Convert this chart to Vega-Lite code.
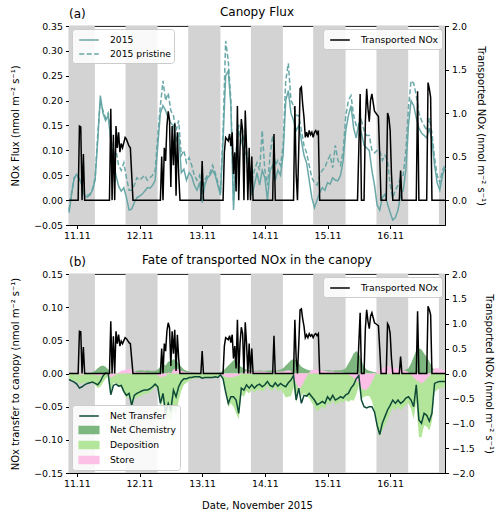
{
"$schema":"https://vega.github.io/schema/vega-lite/v6.json",
"padding":{"left":10,"right":4,"top":5,"bottom":3},
"spacing":12,
"config":{
 "font":"DejaVu Sans",
 "view":{"stroke":"black","strokeWidth":0.9},
 "axis":{"grid":false,"labelFont":"DejaVu Sans","labelFontSize":9.4,"labelColor":"black","titleFont":"DejaVu Sans","titleFontSize":10,"titleFontWeight":"normal","titleColor":"black","tickColor":"black","domainColor":"black","tickSize":3.5,"labelPadding":3,"domain":true,"labelOverlap":false},
 "title":{"font":"DejaVu Sans","fontSize":12,"fontWeight":"normal","color":"black"},
 "legend":{"labelFont":"DejaVu Sans","labelFontSize":9.2,"labelColor":"black","fillColor":"rgba(255,255,255,0.85)","strokeColor":"#cccccc","cornerRadius":3,"padding":3,"offset":3,"rowPadding":0,"symbolOffset":6,"labelOffset":13,"symbolSize":196,"title":null}
},
"datasets":{
"night":[
{"s":"2015-11-10T21:00","e":"2015-11-11T06:55"},
{"s":"2015-11-11T18:40","e":"2015-11-12T06:55"},
{"s":"2015-11-12T18:40","e":"2015-11-13T07:00"},
{"s":"2015-11-13T18:40","e":"2015-11-14T06:55"},
{"s":"2015-11-14T18:30","e":"2015-11-15T06:55"},
{"s":"2015-11-15T18:45","e":"2015-11-16T06:55"},
{"s":"2015-11-16T18:40","e":"2015-11-16T21:00"}
],
"tn":[
{"t":"2015-11-10T21:00","v":0},{"t":"2015-11-11T00:30","v":0},{"t":"2015-11-11T01:00","v":0.85},{"t":"2015-11-11T01:30","v":0.84},{"t":"2015-11-11T02:00","v":0},{"t":"2015-11-11T02:30","v":0.53},{"t":"2015-11-11T03:00","v":0},
{"t":"2015-11-11T12:30","v":0},{"t":"2015-11-11T13:00","v":1.05},{"t":"2015-11-11T13:30","v":0},{"t":"2015-11-11T14:00","v":0.75},{"t":"2015-11-11T14:30","v":0},{"t":"2015-11-11T15:00","v":0.85},{"t":"2015-11-11T15:30","v":0.6},{"t":"2015-11-11T16:00","v":0.78},{"t":"2015-11-11T16:30","v":0.55},{"t":"2015-11-11T17:00","v":0.65},{"t":"2015-11-11T17:30","v":0.6},{"t":"2015-11-11T18:00","v":0.66},{"t":"2015-11-11T18:30","v":0.72},{"t":"2015-11-11T19:00","v":0.7},{"t":"2015-11-11T19:30","v":0.66},{"t":"2015-11-11T20:00","v":0.62},{"t":"2015-11-11T20:30","v":0.6},{"t":"2015-11-11T21:00","v":0.3},{"t":"2015-11-11T21:30","v":0},
{"t":"2015-11-12T08:00","v":0},{"t":"2015-11-12T08:30","v":0.5},{"t":"2015-11-12T09:00","v":0},{"t":"2015-11-12T09:30","v":0.6},{"t":"2015-11-12T10:00","v":0.45},{"t":"2015-11-12T10:30","v":0.85},{"t":"2015-11-12T11:00","v":1.02},{"t":"2015-11-12T11:30","v":0.92},{"t":"2015-11-12T12:00","v":0.15},{"t":"2015-11-12T12:30","v":0.85},{"t":"2015-11-12T13:00","v":0.4},{"t":"2015-11-12T13:30","v":0.88},{"t":"2015-11-12T14:00","v":0.05},{"t":"2015-11-12T14:30","v":0.78},{"t":"2015-11-12T15:00","v":0.3},{"t":"2015-11-12T15:30","v":0},
{"t":"2015-11-12T23:30","v":0},{"t":"2015-11-13T00:00","v":0.45},{"t":"2015-11-13T00:30","v":0},
{"t":"2015-11-13T08:00","v":0},{"t":"2015-11-13T08:30","v":0.55},{"t":"2015-11-13T09:00","v":0.72},{"t":"2015-11-13T09:30","v":0.7},{"t":"2015-11-13T10:00","v":0.68},{"t":"2015-11-13T10:30","v":0.76},{"t":"2015-11-13T11:00","v":0.62},{"t":"2015-11-13T11:30","v":0.78},{"t":"2015-11-13T12:00","v":0.3},{"t":"2015-11-13T12:30","v":0.55},{"t":"2015-11-13T13:00","v":0.1},{"t":"2015-11-13T13:30","v":1.08},{"t":"2015-11-13T14:00","v":0},{"t":"2015-11-13T14:30","v":0.6},{"t":"2015-11-13T15:00","v":0.93},{"t":"2015-11-13T15:30","v":0.8},{"t":"2015-11-13T16:00","v":0},{"t":"2015-11-13T16:30","v":1.03},{"t":"2015-11-13T17:00","v":0.6},{"t":"2015-11-13T17:30","v":0},{"t":"2015-11-13T18:00","v":0.6},{"t":"2015-11-13T18:30","v":0},{"t":"2015-11-13T19:00","v":0.5},{"t":"2015-11-13T19:30","v":0},
{"t":"2015-11-14T03:00","v":0},{"t":"2015-11-14T03:30","v":0.76},{"t":"2015-11-14T04:00","v":0},
{"t":"2015-11-14T11:00","v":0},{"t":"2015-11-14T11:30","v":1.08},{"t":"2015-11-14T12:00","v":0.3},{"t":"2015-11-14T12:30","v":0},{"t":"2015-11-14T13:00","v":0.6},{"t":"2015-11-14T13:30","v":1.28},{"t":"2015-11-14T14:00","v":1.3},{"t":"2015-11-14T14:30","v":1.1},{"t":"2015-11-14T15:00","v":0.95},{"t":"2015-11-14T15:30","v":0.72},{"t":"2015-11-14T16:00","v":0.78},{"t":"2015-11-14T16:30","v":0.72},{"t":"2015-11-14T17:00","v":0.8},{"t":"2015-11-14T17:30","v":0.75},{"t":"2015-11-14T18:00","v":0.78},{"t":"2015-11-14T18:30","v":0.72},{"t":"2015-11-14T19:00","v":0.78},{"t":"2015-11-14T19:30","v":0.8},{"t":"2015-11-14T20:00","v":0.76},{"t":"2015-11-14T20:30","v":0.8},{"t":"2015-11-14T21:00","v":0},
{"t":"2015-11-15T11:30","v":0},{"t":"2015-11-15T12:00","v":0.6},{"t":"2015-11-15T12:30","v":1.22},{"t":"2015-11-15T13:00","v":0},{"t":"2015-11-15T14:00","v":0},{"t":"2015-11-15T14:30","v":0.9},{"t":"2015-11-15T15:00","v":1.28},{"t":"2015-11-15T15:30","v":1.05},{"t":"2015-11-15T16:00","v":0.9},{"t":"2015-11-15T16:30","v":1.15},{"t":"2015-11-15T17:00","v":1.22},{"t":"2015-11-15T17:30","v":1.12},{"t":"2015-11-15T18:00","v":1.02},{"t":"2015-11-15T18:30","v":1.0},{"t":"2015-11-15T19:00","v":0.98},{"t":"2015-11-15T19:30","v":0.96},{"t":"2015-11-15T20:00","v":0.5},{"t":"2015-11-15T20:30","v":0},
{"t":"2015-11-15T22:30","v":0},{"t":"2015-11-15T23:00","v":1.0},{"t":"2015-11-15T23:30","v":0.95},{"t":"2015-11-16T00:00","v":0.8},{"t":"2015-11-16T00:30","v":0.3},{"t":"2015-11-16T01:00","v":0},
{"t":"2015-11-16T03:30","v":0},{"t":"2015-11-16T04:00","v":0.34},{"t":"2015-11-16T04:30","v":0},
{"t":"2015-11-16T10:00","v":0},{"t":"2015-11-16T10:30","v":1.25},{"t":"2015-11-16T11:00","v":0},
{"t":"2015-11-16T14:00","v":0},{"t":"2015-11-16T14:30","v":1.35},{"t":"2015-11-16T15:00","v":1.28},{"t":"2015-11-16T15:30","v":1.18},{"t":"2015-11-16T16:00","v":0},{"t":"2015-11-16T21:00","v":0}
],
"h":[
{"t":"2015-11-10T21:00","a":-0.025,"p":-0.02,"nt":-0.009,"ch":-0.002,"st":0.001,"dp":-0.008},
{"t":"2015-11-10T22:00","a":0.012,"p":0.015,"nt":-0.011,"ch":-0.002,"st":0.001,"dp":-0.010},
{"t":"2015-11-10T23:00","a":0.045,"p":0.045,"nt":-0.013,"ch":-0.002,"st":0.0,"dp":-0.011},
{"t":"2015-11-11T00:00","a":0.052,"p":0.05,"nt":-0.016,"ch":-0.003,"st":-0.001,"dp":-0.012},
{"t":"2015-11-11T01:00","a":0.042,"p":0.042,"nt":-0.022,"ch":-0.004,"st":-0.002,"dp":-0.016},
{"t":"2015-11-11T02:00","a":0.03,"p":0.03,"nt":-0.02,"ch":-0.003,"st":-0.002,"dp":-0.015},
{"t":"2015-11-11T03:00","a":0.008,"p":0.01,"nt":-0.017,"ch":-0.002,"st":-0.001,"dp":-0.014},
{"t":"2015-11-11T04:00","a":0.006,"p":0.01,"nt":-0.015,"ch":-0.001,"st":0.0,"dp":-0.014},
{"t":"2015-11-11T05:00","a":0.01,"p":0.012,"nt":-0.014,"ch":0.0,"st":0.0,"dp":-0.014},
{"t":"2015-11-11T06:00","a":0.02,"p":0.022,"nt":-0.013,"ch":0.002,"st":-0.001,"dp":-0.014},
{"t":"2015-11-11T07:00","a":0.04,"p":0.045,"nt":-0.015,"ch":0.004,"st":-0.002,"dp":-0.017},
{"t":"2015-11-11T08:00","a":0.12,"p":0.13,"nt":-0.017,"ch":0.008,"st":-0.003,"dp":-0.022},
{"t":"2015-11-11T09:00","a":0.21,"p":0.2,"nt":-0.012,"ch":0.011,"st":-0.003,"dp":-0.02},
{"t":"2015-11-11T10:00","a":0.175,"p":0.18,"nt":-0.004,"ch":0.012,"st":-0.002,"dp":-0.014},
{"t":"2015-11-11T11:00","a":0.16,"p":0.165,"nt":0.001,"ch":0.01,"st":-0.001,"dp":-0.008},
{"t":"2015-11-11T12:00","a":0.17,"p":0.175,"nt":0.0,"ch":0.006,"st":-0.002,"dp":-0.004},
{"t":"2015-11-11T13:00","a":0.12,"p":0.13,"nt":-0.032,"ch":0.002,"st":-0.006,"dp":-0.028},
{"t":"2015-11-11T14:00","a":0.075,"p":0.09,"nt":-0.018,"ch":0.001,"st":-0.004,"dp":-0.015},
{"t":"2015-11-11T15:00","a":0.05,"p":0.1,"nt":-0.016,"ch":0.0,"st":-0.002,"dp":-0.014},
{"t":"2015-11-11T16:00","a":0.028,"p":0.07,"nt":-0.019,"ch":-0.001,"st":0.002,"dp":-0.02},
{"t":"2015-11-11T17:00","a":0.018,"p":0.06,"nt":-0.018,"ch":-0.001,"st":0.004,"dp":-0.021},
{"t":"2015-11-11T18:00","a":0.025,"p":0.075,"nt":-0.027,"ch":-0.002,"st":0.005,"dp":-0.03},
{"t":"2015-11-11T19:00","a":0.005,"p":0.045,"nt":-0.033,"ch":-0.002,"st":0.006,"dp":-0.037},
{"t":"2015-11-11T20:00","a":-0.02,"p":0.02,"nt":-0.03,"ch":-0.002,"st":0.007,"dp":-0.035},
{"t":"2015-11-11T21:00","a":-0.018,"p":0.02,"nt":-0.048,"ch":-0.003,"st":0.005,"dp":-0.05},
{"t":"2015-11-11T22:00","a":-0.005,"p":0.03,"nt":-0.033,"ch":0.003,"st":0.003,"dp":-0.039},
{"t":"2015-11-11T23:00","a":0.005,"p":0.045,"nt":-0.03,"ch":0.004,"st":0.002,"dp":-0.036},
{"t":"2015-11-12T00:00","a":0.008,"p":0.04,"nt":-0.028,"ch":0.005,"st":0.002,"dp":-0.035},
{"t":"2015-11-12T01:00","a":0.012,"p":0.045,"nt":-0.026,"ch":0.005,"st":0.002,"dp":-0.033},
{"t":"2015-11-12T02:00","a":0.018,"p":0.05,"nt":-0.025,"ch":0.004,"st":0.002,"dp":-0.031},
{"t":"2015-11-12T03:00","a":0.025,"p":0.04,"nt":-0.025,"ch":0.005,"st":0.001,"dp":-0.031},
{"t":"2015-11-12T04:00","a":0.024,"p":0.045,"nt":-0.023,"ch":0.004,"st":0.001,"dp":-0.028},
{"t":"2015-11-12T05:00","a":0.03,"p":0.05,"nt":-0.02,"ch":0.004,"st":0.001,"dp":-0.025},
{"t":"2015-11-12T06:00","a":0.04,"p":0.06,"nt":-0.016,"ch":0.004,"st":0.0,"dp":-0.02},
{"t":"2015-11-12T07:00","a":0.11,"p":0.13,"nt":-0.02,"ch":0.006,"st":-0.003,"dp":-0.023},
{"t":"2015-11-12T08:00","a":0.175,"p":0.19,"nt":-0.045,"ch":0.01,"st":-0.006,"dp":-0.049},
{"t":"2015-11-12T09:00","a":0.19,"p":0.24,"nt":-0.03,"ch":0.015,"st":-0.004,"dp":-0.041},
{"t":"2015-11-12T10:00","a":0.18,"p":0.2,"nt":-0.06,"ch":0.012,"st":-0.005,"dp":-0.067},
{"t":"2015-11-12T11:00","a":0.165,"p":0.215,"nt":-0.045,"ch":0.018,"st":0.002,"dp":-0.065},
{"t":"2015-11-12T12:00","a":0.155,"p":0.18,"nt":-0.055,"ch":0.018,"st":0.0,"dp":-0.073},
{"t":"2015-11-12T13:00","a":0.15,"p":0.17,"nt":-0.025,"ch":0.022,"st":0.006,"dp":-0.053},
{"t":"2015-11-12T14:00","a":0.12,"p":0.14,"nt":-0.035,"ch":0.02,"st":0.008,"dp":-0.063},
{"t":"2015-11-12T15:00","a":0.135,"p":0.16,"nt":-0.02,"ch":0.015,"st":0.006,"dp":-0.041},
{"t":"2015-11-12T16:00","a":0.055,"p":0.09,"nt":-0.012,"ch":0.01,"st":0.004,"dp":-0.026},
{"t":"2015-11-12T17:00","a":0.062,"p":0.1,"nt":-0.008,"ch":0.006,"st":0.003,"dp":-0.017},
{"t":"2015-11-12T18:00","a":0.04,"p":0.075,"nt":-0.008,"ch":0.004,"st":0.002,"dp":-0.014},
{"t":"2015-11-12T19:00","a":0.055,"p":0.085,"nt":-0.006,"ch":0.003,"st":0.002,"dp":-0.011},
{"t":"2015-11-12T20:00","a":0.048,"p":0.07,"nt":-0.006,"ch":0.002,"st":0.001,"dp":-0.009},
{"t":"2015-11-12T21:00","a":0.03,"p":0.05,"nt":-0.005,"ch":0.002,"st":0.001,"dp":-0.008},
{"t":"2015-11-12T22:00","a":0.02,"p":0.04,"nt":-0.005,"ch":0.001,"st":0.001,"dp":-0.007},
{"t":"2015-11-12T23:00","a":0.035,"p":0.05,"nt":-0.005,"ch":0.001,"st":0.001,"dp":-0.007},
{"t":"2015-11-13T00:00","a":-0.005,"p":0.01,"nt":-0.007,"ch":0.001,"st":0.0,"dp":-0.008},
{"t":"2015-11-13T01:00","a":0.03,"p":0.04,"nt":-0.006,"ch":0.001,"st":0.0,"dp":-0.007},
{"t":"2015-11-13T02:00","a":0.045,"p":0.05,"nt":-0.006,"ch":0.001,"st":0.0,"dp":-0.007},
{"t":"2015-11-13T03:00","a":0.05,"p":0.055,"nt":-0.006,"ch":0.001,"st":0.0,"dp":-0.007},
{"t":"2015-11-13T04:00","a":0.06,"p":0.07,"nt":-0.006,"ch":0.001,"st":0.0,"dp":-0.007},
{"t":"2015-11-13T05:00","a":0.05,"p":0.055,"nt":-0.005,"ch":0.001,"st":0.0,"dp":-0.006},
{"t":"2015-11-13T06:00","a":0.03,"p":0.035,"nt":-0.006,"ch":0.001,"st":0.0,"dp":-0.007},
{"t":"2015-11-13T07:00","a":0.01,"p":0.015,"nt":-0.002,"ch":0.002,"st":-0.001,"dp":-0.003},
{"t":"2015-11-13T08:00","a":0.12,"p":0.14,"nt":-0.008,"ch":0.004,"st":-0.003,"dp":-0.009},
{"t":"2015-11-13T09:00","a":0.25,"p":0.32,"nt":-0.028,"ch":0.008,"st":-0.005,"dp":-0.031},
{"t":"2015-11-13T10:00","a":0.26,"p":0.28,"nt":-0.045,"ch":0.012,"st":-0.006,"dp":-0.051},
{"t":"2015-11-13T11:00","a":0.19,"p":0.2,"nt":-0.035,"ch":0.016,"st":-0.006,"dp":-0.045},
{"t":"2015-11-13T12:00","a":-0.02,"p":0.0,"nt":-0.035,"ch":0.02,"st":-0.005,"dp":-0.05},
{"t":"2015-11-13T13:00","a":0.09,"p":0.1,"nt":-0.04,"ch":0.024,"st":-0.004,"dp":-0.06},
{"t":"2015-11-13T14:00","a":0.14,"p":0.15,"nt":-0.06,"ch":0.012,"st":-0.003,"dp":-0.069},
{"t":"2015-11-13T15:00","a":0.12,"p":0.145,"nt":-0.022,"ch":0.01,"st":0.0,"dp":-0.032},
{"t":"2015-11-13T16:00","a":0.1,"p":0.12,"nt":-0.025,"ch":0.008,"st":0.002,"dp":-0.035},
{"t":"2015-11-13T17:00","a":0.09,"p":0.1,"nt":-0.017,"ch":0.006,"st":0.003,"dp":-0.026},
{"t":"2015-11-13T18:00","a":0.055,"p":0.07,"nt":-0.022,"ch":0.005,"st":0.003,"dp":-0.03},
{"t":"2015-11-13T19:00","a":0.01,"p":0.04,"nt":-0.017,"ch":0.004,"st":0.003,"dp":-0.024},
{"t":"2015-11-13T20:00","a":0.03,"p":0.06,"nt":-0.022,"ch":0.004,"st":0.003,"dp":-0.029},
{"t":"2015-11-13T21:00","a":0.055,"p":0.075,"nt":-0.018,"ch":0.004,"st":0.003,"dp":-0.025},
{"t":"2015-11-13T22:00","a":0.03,"p":0.06,"nt":-0.016,"ch":0.005,"st":0.003,"dp":-0.024},
{"t":"2015-11-13T23:00","a":0.06,"p":0.14,"nt":-0.02,"ch":0.004,"st":0.003,"dp":-0.027},
{"t":"2015-11-14T00:00","a":0.045,"p":0.06,"nt":-0.017,"ch":0.004,"st":0.003,"dp":-0.024},
{"t":"2015-11-14T01:00","a":0.0,"p":0.03,"nt":-0.012,"ch":0.004,"st":0.002,"dp":-0.018},
{"t":"2015-11-14T02:00","a":0.06,"p":0.09,"nt":-0.018,"ch":0.005,"st":0.002,"dp":-0.025},
{"t":"2015-11-14T03:00","a":0.07,"p":0.13,"nt":-0.02,"ch":0.004,"st":0.002,"dp":-0.026},
{"t":"2015-11-14T04:00","a":0.04,"p":0.07,"nt":-0.014,"ch":0.004,"st":0.002,"dp":-0.02},
{"t":"2015-11-14T05:00","a":0.06,"p":0.08,"nt":-0.019,"ch":0.005,"st":0.003,"dp":-0.027},
{"t":"2015-11-14T06:00","a":0.05,"p":0.07,"nt":-0.015,"ch":0.006,"st":0.003,"dp":-0.024},
{"t":"2015-11-14T07:00","a":0.09,"p":0.11,"nt":-0.018,"ch":0.008,"st":0.003,"dp":-0.029},
{"t":"2015-11-14T08:00","a":0.2,"p":0.24,"nt":-0.02,"ch":0.012,"st":0.004,"dp":-0.036},
{"t":"2015-11-14T09:00","a":0.22,"p":0.275,"nt":-0.014,"ch":0.016,"st":0.005,"dp":-0.035},
{"t":"2015-11-14T10:00","a":0.175,"p":0.2,"nt":-0.01,"ch":0.02,"st":0.004,"dp":-0.034},
{"t":"2015-11-14T11:00","a":0.16,"p":0.19,"nt":-0.003,"ch":0.022,"st":-0.004,"dp":-0.021},
{"t":"2015-11-14T12:00","a":0.14,"p":0.17,"nt":-0.04,"ch":0.02,"st":-0.015,"dp":-0.045},
{"t":"2015-11-14T13:00","a":0.15,"p":0.17,"nt":-0.022,"ch":0.015,"st":-0.022,"dp":-0.015},
{"t":"2015-11-14T14:00","a":0.12,"p":0.14,"nt":-0.045,"ch":0.01,"st":-0.02,"dp":-0.035},
{"t":"2015-11-14T15:00","a":0.09,"p":0.11,"nt":-0.033,"ch":0.008,"st":-0.012,"dp":-0.029},
{"t":"2015-11-14T16:00","a":0.075,"p":0.095,"nt":-0.034,"ch":0.006,"st":-0.005,"dp":-0.035},
{"t":"2015-11-14T17:00","a":0.04,"p":0.07,"nt":-0.03,"ch":0.005,"st":0.002,"dp":-0.037},
{"t":"2015-11-14T18:00","a":0.005,"p":0.045,"nt":-0.035,"ch":0.004,"st":0.005,"dp":-0.044},
{"t":"2015-11-14T19:00","a":-0.015,"p":0.035,"nt":-0.04,"ch":0.004,"st":0.006,"dp":-0.05},
{"t":"2015-11-14T20:00","a":0.0,"p":0.03,"nt":-0.047,"ch":0.004,"st":0.006,"dp":-0.057},
{"t":"2015-11-14T21:00","a":0.015,"p":0.05,"nt":-0.045,"ch":0.004,"st":0.005,"dp":-0.054},
{"t":"2015-11-14T22:00","a":0.025,"p":0.06,"nt":-0.042,"ch":0.004,"st":0.004,"dp":-0.05},
{"t":"2015-11-14T23:00","a":0.02,"p":0.065,"nt":-0.045,"ch":0.005,"st":0.004,"dp":-0.054},
{"t":"2015-11-15T00:00","a":0.035,"p":0.08,"nt":-0.035,"ch":0.005,"st":0.003,"dp":-0.043},
{"t":"2015-11-15T01:00","a":0.032,"p":0.09,"nt":-0.04,"ch":0.005,"st":0.003,"dp":-0.048},
{"t":"2015-11-15T02:00","a":0.045,"p":0.065,"nt":-0.033,"ch":0.004,"st":0.003,"dp":-0.04},
{"t":"2015-11-15T03:00","a":0.04,"p":0.11,"nt":-0.04,"ch":0.005,"st":0.002,"dp":-0.047},
{"t":"2015-11-15T04:00","a":0.039,"p":0.08,"nt":-0.038,"ch":0.005,"st":0.002,"dp":-0.045},
{"t":"2015-11-15T05:00","a":0.05,"p":0.07,"nt":-0.035,"ch":0.005,"st":0.002,"dp":-0.042},
{"t":"2015-11-15T06:00","a":0.08,"p":0.1,"nt":-0.037,"ch":0.006,"st":0.001,"dp":-0.044},
{"t":"2015-11-15T07:00","a":0.14,"p":0.17,"nt":-0.032,"ch":0.008,"st":0.0,"dp":-0.04},
{"t":"2015-11-15T08:00","a":0.17,"p":0.2,"nt":-0.03,"ch":0.015,"st":-0.002,"dp":-0.043},
{"t":"2015-11-15T09:00","a":0.19,"p":0.21,"nt":-0.022,"ch":0.022,"st":-0.004,"dp":-0.04},
{"t":"2015-11-15T10:00","a":0.145,"p":0.17,"nt":-0.017,"ch":0.03,"st":-0.006,"dp":-0.041},
{"t":"2015-11-15T11:00","a":0.125,"p":0.15,"nt":-0.008,"ch":0.034,"st":-0.01,"dp":-0.032},
{"t":"2015-11-15T12:00","a":0.155,"p":0.145,"nt":-0.003,"ch":0.03,"st":-0.015,"dp":-0.018},
{"t":"2015-11-15T13:00","a":0.135,"p":0.16,"nt":-0.04,"ch":0.02,"st":-0.022,"dp":-0.038},
{"t":"2015-11-15T14:00","a":0.11,"p":0.14,"nt":-0.05,"ch":0.01,"st":-0.025,"dp":-0.035},
{"t":"2015-11-15T15:00","a":0.105,"p":0.13,"nt":-0.052,"ch":0.006,"st":-0.024,"dp":-0.034},
{"t":"2015-11-15T16:00","a":0.1,"p":0.13,"nt":-0.05,"ch":0.004,"st":-0.02,"dp":-0.034},
{"t":"2015-11-15T17:00","a":0.06,"p":0.1,"nt":-0.05,"ch":0.003,"st":-0.012,"dp":-0.041},
{"t":"2015-11-15T18:00","a":0.03,"p":0.095,"nt":-0.058,"ch":0.002,"st":-0.004,"dp":-0.056},
{"t":"2015-11-15T19:00","a":-0.01,"p":0.1,"nt":-0.078,"ch":0.002,"st":0.004,"dp":-0.084},
{"t":"2015-11-15T20:00","a":-0.02,"p":0.1,"nt":-0.092,"ch":0.0,"st":0.004,"dp":-0.096},
{"t":"2015-11-15T21:00","a":0.005,"p":0.08,"nt":-0.075,"ch":0.002,"st":0.008,"dp":-0.085},
{"t":"2015-11-15T22:00","a":0.012,"p":0.09,"nt":-0.065,"ch":0.003,"st":0.01,"dp":-0.078},
{"t":"2015-11-15T23:00","a":-0.008,"p":0.08,"nt":-0.055,"ch":0.003,"st":0.011,"dp":-0.069},
{"t":"2015-11-16T00:00","a":-0.025,"p":0.03,"nt":-0.048,"ch":0.003,"st":0.01,"dp":-0.061},
{"t":"2015-11-16T01:00","a":-0.04,"p":0.005,"nt":-0.04,"ch":0.003,"st":0.009,"dp":-0.052},
{"t":"2015-11-16T02:00","a":-0.035,"p":0.02,"nt":-0.045,"ch":0.003,"st":0.008,"dp":-0.056},
{"t":"2015-11-16T03:00","a":-0.02,"p":0.03,"nt":-0.04,"ch":0.003,"st":0.007,"dp":-0.05},
{"t":"2015-11-16T04:00","a":0.01,"p":0.045,"nt":-0.045,"ch":0.004,"st":0.006,"dp":-0.055},
{"t":"2015-11-16T05:00","a":0.02,"p":0.05,"nt":-0.042,"ch":0.005,"st":0.005,"dp":-0.052},
{"t":"2015-11-16T06:00","a":0.06,"p":0.1,"nt":-0.037,"ch":0.006,"st":0.004,"dp":-0.047},
{"t":"2015-11-16T07:00","a":0.15,"p":0.185,"nt":-0.035,"ch":0.008,"st":0.002,"dp":-0.045},
{"t":"2015-11-16T08:00","a":0.2,"p":0.24,"nt":-0.04,"ch":0.015,"st":-0.002,"dp":-0.053},
{"t":"2015-11-16T09:00","a":0.19,"p":0.235,"nt":-0.05,"ch":0.025,"st":-0.006,"dp":-0.069},
{"t":"2015-11-16T10:00","a":0.165,"p":0.21,"nt":-0.017,"ch":0.035,"st":-0.01,"dp":-0.042},
{"t":"2015-11-16T11:00","a":0.145,"p":0.175,"nt":-0.07,"ch":0.038,"st":-0.012,"dp":-0.096},
{"t":"2015-11-16T12:00","a":0.135,"p":0.16,"nt":-0.075,"ch":0.036,"st":-0.015,"dp":-0.096},
{"t":"2015-11-16T13:00","a":0.13,"p":0.15,"nt":-0.06,"ch":0.03,"st":-0.012,"dp":-0.078},
{"t":"2015-11-16T14:00","a":0.125,"p":0.14,"nt":-0.063,"ch":0.025,"st":-0.008,"dp":-0.08},
{"t":"2015-11-16T15:00","a":0.145,"p":0.165,"nt":-0.072,"ch":0.018,"st":-0.004,"dp":-0.086},
{"t":"2015-11-16T16:00","a":0.12,"p":0.135,"nt":-0.06,"ch":0.01,"st":0.002,"dp":-0.072},
{"t":"2015-11-16T17:00","a":0.07,"p":0.085,"nt":-0.015,"ch":0.005,"st":0.008,"dp":-0.028},
{"t":"2015-11-16T18:00","a":0.035,"p":0.05,"nt":-0.013,"ch":0.004,"st":0.008,"dp":-0.025},
{"t":"2015-11-16T19:00","a":0.02,"p":0.035,"nt":-0.012,"ch":0.003,"st":0.007,"dp":-0.022},
{"t":"2015-11-16T20:00","a":0.05,"p":0.06,"nt":-0.012,"ch":0.003,"st":0.006,"dp":-0.021},
{"t":"2015-11-16T21:00","a":0.065,"p":0.07,"nt":-0.012,"ch":0.003,"st":0.005,"dp":-0.02}
]
},
"vconcat":[
{
 "width":376,"height":199,
 "title":{"text":"Canopy Flux","offset":-11},
 "layer":[
  {"data":{"name":"night"},"mark":{"type":"rect","color":"#d3d3d3"},
   "encoding":{"x":{"field":"s","type":"temporal","scale":{"domain":[{"year":2015,"month":11,"date":10,"hours":21},{"year":2015,"month":11,"date":16,"hours":21}]},"axis":{"title":null,"format":"%d.%m","values":[{"year":2015,"month":11,"date":11},{"year":2015,"month":11,"date":12},{"year":2015,"month":11,"date":13},{"year":2015,"month":11,"date":14},{"year":2015,"month":11,"date":15},{"year":2015,"month":11,"date":16}]}},"x2":{"field":"e"}}},
  {"layer":[
    {"data":{"name":"h"},"transform":[{"fold":["a","p"],"as":["series","val"]}],
     "mark":{"type":"line","strokeWidth":1.5,"opacity":0.95},
     "encoding":{
      "x":{"field":"t","type":"temporal","scale":{"domain":[{"year":2015,"month":11,"date":10,"hours":21},{"year":2015,"month":11,"date":16,"hours":21}]},"axis":{"title":null,"format":"%d.%m","values":[{"year":2015,"month":11,"date":11},{"year":2015,"month":11,"date":12},{"year":2015,"month":11,"date":13},{"year":2015,"month":11,"date":14},{"year":2015,"month":11,"date":15},{"year":2015,"month":11,"date":16}]}},
      "y":{"field":"val","type":"quantitative","scale":{"domain":[-0.05,0.35],"nice":false},"axis":{"orient":"left","title":"NOx Flux (nmol m⁻² s⁻¹)","values":[-0.05,0,0.05,0.1,0.15,0.2,0.25,0.3,0.35],"tickCount":20,"format":".2f","titlePadding":13,"labelOverlap":false}},
      "color":{"field":"series","type":"nominal","scale":{"domain":["a","p"],"range":["#62a3a3","#62a3a3"]},"legend":{"orient":"top-left","labelExpr":"datum.label == 'a' ? '2015' : '2015 pristine'","symbolType":"M-1.4,0H1.4","symbolStrokeWidth":1.5}},
      "strokeDash":{"field":"series","type":"nominal","scale":{"domain":["a","p"],"range":[[1,0],[5,2.5]]},"legend":{"orient":"top-left","labelExpr":"datum.label == 'a' ? '2015' : '2015 pristine'","symbolType":"M-1.4,0H1.4","symbolStrokeWidth":1.5}}
     }},
    {"data":{"values":[{"lab":"(a)"}]},"mark":{"type":"text","align":"left","baseline":"bottom","dy":-5,"fontSize":12,"font":"DejaVu Sans","color":"black"},
     "encoding":{"x":{"datum":{"year":2015,"month":11,"date":10,"hours":21},"type":"temporal"},"y":{"datum":0.35,"type":"quantitative","scale":{"domain":[-0.05,0.35],"nice":false}},"text":{"field":"lab"}}}
  ]},
  {"data":{"name":"tn"},"mark":{"type":"line","strokeWidth":1.5},
   "encoding":{
    "x":{"field":"t","type":"temporal","scale":{"domain":[{"year":2015,"month":11,"date":10,"hours":21},{"year":2015,"month":11,"date":16,"hours":21}]}},
    "y":{"field":"v","type":"quantitative","scale":{"domain":[-0.285714,2],"nice":false},"axis":{"orient":"right","title":"Transported NOx (nmol m⁻² s⁻¹)","values":[0,0.5,1,1.5,2],"tickCount":20,"format":".1f","titlePadding":9,"labelOverlap":false}},
    "color":{"datum":"Transported NOx","scale":{"range":["black"]},"legend":{"orient":"top-right","symbolType":"M-1.4,0H1.4","symbolStrokeWidth":1.5}}
   }}
 ],
 "resolve":{"scale":{"y":"independent","color":"independent","strokeDash":"independent"}}
},
{
 "width":376,"height":199,
 "title":{"text":"Fate of transported NOx in the canopy","offset":-11},
 "layer":[
  {"data":{"name":"night"},"mark":{"type":"rect","color":"#d3d3d3"},
   "encoding":{"x":{"field":"s","type":"temporal","scale":{"domain":[{"year":2015,"month":11,"date":10,"hours":21},{"year":2015,"month":11,"date":16,"hours":21}]},"axis":{"title":"Date, November 2015","titlePadding":13,"format":"%d.%m","values":[{"year":2015,"month":11,"date":11},{"year":2015,"month":11,"date":12},{"year":2015,"month":11,"date":13},{"year":2015,"month":11,"date":14},{"year":2015,"month":11,"date":15},{"year":2015,"month":11,"date":16}]}},"x2":{"field":"e"}}},
  {"layer":[
    {"data":{"name":"h"},"mark":{"type":"area"},
     "encoding":{
      "x":{"field":"t","type":"temporal","scale":{"domain":[{"year":2015,"month":11,"date":10,"hours":21},{"year":2015,"month":11,"date":16,"hours":21}]},"axis":{"title":"Date, November 2015","titlePadding":13,"format":"%d.%m","values":[{"year":2015,"month":11,"date":11},{"year":2015,"month":11,"date":12},{"year":2015,"month":11,"date":13},{"year":2015,"month":11,"date":14},{"year":2015,"month":11,"date":15},{"year":2015,"month":11,"date":16}]}},
      "y":{"field":"ch","type":"quantitative","stack":null,"scale":{"domain":[-0.15,0.15],"nice":false},"axis":{"orient":"left","title":"NOx transfer to canopy (nmol m⁻² s⁻¹)","values":[-0.15,-0.1,-0.05,0,0.05,0.1,0.15],"tickCount":20,"format":".2f","titlePadding":13,"labelOverlap":false}},
      "y2":{"datum":0},
      "color":{"datum":"Net Chemistry"}
     }},
    {"data":{"name":"h"},"mark":{"type":"area"},
     "encoding":{
      "x":{"field":"t","type":"temporal"},
      "y":{"field":"dp","type":"quantitative","stack":null,"scale":{"domain":[-0.15,0.15],"nice":false}},
      "y2":{"datum":0},
      "color":{"datum":"Deposition"}
     }},
    {"data":{"name":"h"},"mark":{"type":"area"},
     "encoding":{
      "x":{"field":"t","type":"temporal"},
      "y":{"field":"st","type":"quantitative","stack":null,"scale":{"domain":[-0.15,0.15],"nice":false}},
      "y2":{"datum":0},
      "color":{"datum":"Store"}
     }},
    {"data":{"name":"h"},"mark":{"type":"line","strokeWidth":1.5},
     "encoding":{
      "x":{"field":"t","type":"temporal"},
      "y":{"field":"nt","type":"quantitative","scale":{"domain":[-0.15,0.15],"nice":false}},
      "color":{"datum":"Net Transfer","scale":{"domain":["Net Transfer","Net Chemistry","Deposition","Store"],"range":["#0d4a37","#7db77f","#b3e59a","#fcc0e6"]},
       "legend":{"orient":"bottom-left","symbolType":"square",
        "encode":{"symbols":{"update":{
          "shape":{"signal":"datum.value === 'Net Transfer' ? 'M-1.4,0H1.4' : 'M-1.4,-0.5H1.4V0.5H-1.4Z'"},
          "fill":{"signal":"datum.value === 'Net Transfer' ? 'transparent' : datum.value === 'Net Chemistry' ? '#7db77f' : datum.value === 'Deposition' ? '#b3e59a' : '#fcc0e6'"},
          "stroke":{"signal":"datum.value === 'Net Transfer' ? '#0d4a37' : 'transparent'"},
          "strokeWidth":{"value":1.5},
          "opacity":{"value":1}}}}}}
     }},
    {"data":{"values":[{"lab":"(b)"}]},"mark":{"type":"text","align":"left","baseline":"bottom","dy":-5,"fontSize":12,"font":"DejaVu Sans","color":"black"},
     "encoding":{"x":{"datum":{"year":2015,"month":11,"date":10,"hours":21},"type":"temporal"},"y":{"datum":0.15,"type":"quantitative","scale":{"domain":[-0.15,0.15],"nice":false}},"text":{"field":"lab"}}}
  ]},
  {"data":{"name":"tn"},"mark":{"type":"line","strokeWidth":1.5},
   "encoding":{
    "x":{"field":"t","type":"temporal"},
    "y":{"field":"v","type":"quantitative","scale":{"domain":[-2,2],"nice":false},"axis":{"orient":"right","title":"Transported NOx (nmol m⁻² s⁻¹)","values":[-2,-1.5,-1,-0.5,0,0.5,1,1.5,2],"tickCount":20,"format":".1f","titlePadding":9,"labelOverlap":false}},
    "color":{"datum":"Transported NOx","scale":{"range":["black"]},"legend":{"orient":"top-right","symbolType":"M-1.4,0H1.4","symbolStrokeWidth":1.5}}
   }}
 ],
 "resolve":{"scale":{"y":"independent","color":"independent"}}
}
]
}
